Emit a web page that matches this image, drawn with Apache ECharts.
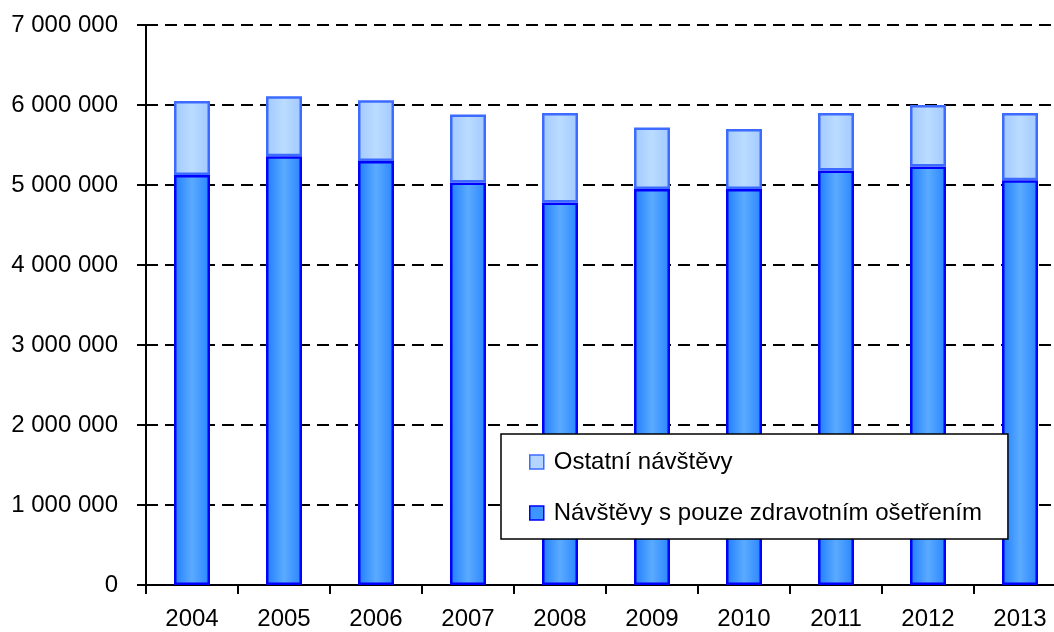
<!DOCTYPE html>
<html>
<head>
<meta charset="utf-8">
<script src="https://cdn.jsdelivr.net/npm/echarts@6/dist/echarts.min.js"></script>
<style>html,body{margin:0;padding:0;background:#fff}#c{width:1054px;height:632px}</style>
</head>
<body>
<div id="c"></div>
<script>
const years = ['2004','2005','2006','2007','2008','2009','2010','2011','2012','2013'];
const onlyTreatment = [5125000, 5360000, 5300000, 5030000, 4780000, 4950000, 4950000, 5180000, 5230000, 5060000];
const otherVisits   = [925000, 750000, 760000, 850000, 1120000, 770000, 750000, 720000, 770000, 840000];
const yTicks = { min: 0, max: 7000000, interval: 1000000 };
const nameOther = 'Ostatní návštěvy';
const nameTreat = 'Návštěvy s pouze zdravotním ošetřením';

const font = "'Liberation Sans', Arial, sans-serif";
const chart = echarts.init(document.getElementById('c'), null, {renderer:'canvas'});
const darkGrad = new echarts.graphic.LinearGradient(0,0,1,0,[
  {offset:0,color:'#1f7dff'},{offset:0.5,color:'#5aabff'},{offset:1,color:'#2a85ff'}]);
const lightGrad = new echarts.graphic.LinearGradient(0,0,1,0,[
  {offset:0,color:'#a2c9ff'},{offset:0.5,color:'#badcff'},{offset:1,color:'#a2c9ff'}]);
chart.setOption({
  animation:false,
  backgroundColor:'#fff',
  textStyle:{fontFamily:font},
  grid:{left:146, top:25, height:560, width:920, containLabel:false, outerBoundsMode:'none'},
  legend:{
    orient:'vertical', left:501, top:434,
    padding:[16,26,14,28], itemGap:27,
    itemWidth:14, itemHeight:14,
    backgroundColor:'#fff', borderColor:'#000', borderWidth:1.5,
    textStyle:{fontSize:24, lineHeight:24, color:'#000', fontFamily:font, padding:[0,0,0,5]},
    data:[
      {name:nameOther, icon:'rect', itemStyle:{color:'#b3d5ff', borderColor:'#3d6bff', borderWidth:1.5}},
      {name:nameTreat, icon:'rect', itemStyle:{color:'#3d95ff', borderColor:'#0000ff', borderWidth:1.5}}
    ]
  },
  xAxis:{
    type:'category', data:years, boundaryGap:true,
    axisLine:{lineStyle:{color:'#000', width:2}},
    axisTick:{show:true, length:9, lineStyle:{color:'#000', width:2}, alignWithLabel:false},
    axisLabel:{color:'#000', fontSize:24, lineHeight:24, margin:22, fontFamily:font},
    splitLine:{show:false}
  },
  yAxis:{
    type:'value', min:yTicks.min, max:yTicks.max, interval:yTicks.interval,
    axisLine:{show:true, lineStyle:{color:'#000', width:2}},
    axisTick:{show:true, length:9, lineStyle:{color:'#000', width:2}},
    axisLabel:{color:'#000', fontSize:24, margin:28, fontFamily:font,
      formatter:v=>String(v).replace(/\B(?=(\d{3})+(?!\d))/g,' ')},
    splitLine:{show:true, lineStyle:{color:'#000', width:2, type:[12,7]}}
  },
  series:[
    {name:nameTreat, type:'bar', stack:'s', data:onlyTreatment, barWidth:36,
     itemStyle:{color:darkGrad, borderColor:'#0000ff', borderWidth:2.5}},
    {name:nameOther, type:'bar', stack:'s', data:otherVisits, barWidth:36,
     itemStyle:{color:lightGrad, borderColor:'#3d6bff', borderWidth:2.5}}
  ]
});
</script>
</body>
</html>
